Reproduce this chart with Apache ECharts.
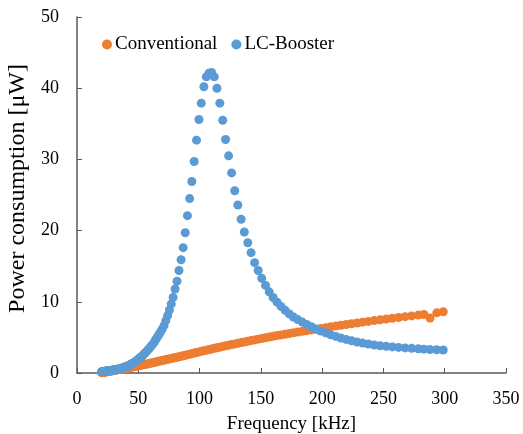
<!DOCTYPE html>
<html>
<head>
<meta charset="utf-8">
<script src="https://cdn.jsdelivr.net/npm/echarts@6/dist/echarts.min.js"></script>
<style>
  html, body { margin: 0; padding: 0; background: #fff; }
  #chart { width: 523px; height: 434px; }
</style>
</head>
<body>
<div id="chart"></div>
<script>
  // frequency [kHz]
  var freq = [
    20.0, 20.4, 20.8, 21.2, 21.6, 22.1, 22.5, 23.0, 23.4, 23.9,
    24.4, 24.9, 25.4, 25.9, 26.4, 26.9, 27.5, 28.0, 28.6, 29.1,
    29.7, 30.3, 30.9, 31.5, 32.2, 32.8, 33.5, 34.1, 34.8, 35.5,
    36.2, 37.0, 37.7, 38.4, 39.2, 40.0, 40.8, 41.6, 42.4, 43.3,
    44.2, 45.0, 45.9, 46.9, 47.8, 48.8, 49.7, 50.7, 51.7, 52.8,
    53.8, 54.9, 56.0, 57.1, 58.3, 59.4, 60.6, 61.8, 63.1, 64.3,
    65.6, 66.9, 68.3, 69.6, 71.0, 72.4, 73.9, 75.4, 76.9, 78.4,
    80.0, 81.6, 83.2, 84.9, 86.6, 88.3, 90.1, 91.9, 93.7, 95.6,
    97.5, 99.5, 101.4, 103.5, 105.5, 107.7, 109.8, 112.0, 114.2, 116.5,
    118.9, 121.2, 123.7, 126.1, 128.7, 131.2, 133.9, 136.5, 139.3, 142.0,
    144.9, 147.8, 150.7, 153.8, 156.8, 160.0, 163.2, 166.4, 169.8, 173.2,
    176.6, 180.1, 183.8, 187.4, 191.2, 195.0, 198.9, 202.9, 206.9, 211.1,
    215.3, 219.6, 224.0, 228.5, 233.0, 237.7, 242.5, 247.3, 252.3, 257.3,
    262.4, 267.7, 273.0, 278.5, 283.0, 288.0, 293.5, 298.8
  ];

  // power consumption [uW]
  var conventional = [
    0.05, 0.06, 0.07, 0.08, 0.09, 0.11, 0.12, 0.14, 0.15, 0.17,
    0.18, 0.20, 0.21, 0.23, 0.25, 0.26, 0.28, 0.30, 0.32, 0.33,
    0.35, 0.37, 0.39, 0.41, 0.43, 0.45, 0.47, 0.49, 0.51, 0.53,
    0.55, 0.58, 0.60, 0.63, 0.65, 0.68, 0.70, 0.73, 0.75, 0.78,
    0.82, 0.85, 0.88, 0.91, 0.94, 0.97, 1.00, 1.04, 1.07, 1.11,
    1.15, 1.19, 1.23, 1.27, 1.31, 1.35, 1.40, 1.44, 1.49, 1.55,
    1.60, 1.65, 1.71, 1.76, 1.82, 1.87, 1.93, 1.98, 2.04, 2.09,
    2.15, 2.21, 2.28, 2.35, 2.42, 2.49, 2.57, 2.64, 2.72, 2.80,
    2.88, 2.96, 3.04, 3.12, 3.20, 3.29, 3.37, 3.46, 3.54, 3.63,
    3.72, 3.81, 3.90, 3.99, 4.08, 4.17, 4.27, 4.36, 4.46, 4.55,
    4.65, 4.75, 4.85, 4.95, 5.05, 5.15, 5.25, 5.35, 5.45, 5.55,
    5.65, 5.75, 5.85, 5.95, 6.05, 6.15, 6.26, 6.37, 6.48, 6.59,
    6.70, 6.81, 6.92, 7.03, 7.14, 7.25, 7.36, 7.47, 7.58, 7.69,
    7.80, 7.91, 8.02, 8.13, 8.22, 7.72, 8.45, 8.60
  ];

  var lcBooster = [
    0.19, 0.20, 0.20, 0.21, 0.22, 0.23, 0.24, 0.25, 0.26, 0.27,
    0.28, 0.29, 0.30, 0.31, 0.33, 0.34, 0.35, 0.37, 0.38, 0.40,
    0.42, 0.44, 0.46, 0.48, 0.50, 0.52, 0.54, 0.57, 0.60, 0.63,
    0.67, 0.71, 0.75, 0.80, 0.85, 0.90, 0.96, 1.02, 1.09, 1.16,
    1.24, 1.33, 1.42, 1.52, 1.63, 1.75, 1.88, 2.02, 2.17, 2.33,
    2.50, 2.70, 2.90, 3.10, 3.32, 3.55, 3.80, 4.05, 4.35, 4.70,
    5.05, 5.40, 5.80, 6.20, 6.65, 7.35, 8.05, 8.85, 9.70, 10.60,
    11.80, 12.90, 14.40, 15.90, 17.60, 19.70, 22.10, 24.50, 26.90, 29.70,
    32.70, 35.60, 37.90, 40.20, 41.60, 42.10, 42.20, 41.60, 40.00, 37.90,
    35.50, 32.80, 30.50, 28.10, 25.60, 23.60, 21.60, 19.80, 18.30, 16.90,
    15.50, 14.40, 13.30, 12.30, 11.40, 10.60, 9.95, 9.35, 8.80, 8.30,
    7.87, 7.50, 7.15, 6.82, 6.50, 6.18, 5.90, 5.63, 5.38, 5.14,
    4.92, 4.72, 4.53, 4.36, 4.20, 4.06, 3.94, 3.83, 3.74, 3.66,
    3.59, 3.52, 3.46, 3.40, 3.35, 3.30, 3.26, 3.23
  ];

  var seriesNames = ['Conventional', 'LC-Booster'];
  var font = '"Liberation Serif", "Times New Roman", serif';

  function pairs(ys) {
    return freq.map(function (f, i) { return [f, ys[i]]; });
  }

  var chart = echarts.init(document.getElementById('chart'));
  chart.setOption({
    animation: false,
    textStyle: { fontFamily: font, color: '#000' },
    grid: { left: 77, right: 17, top: 17, bottom: 61, outerBoundsMode: 'none', containLabel: false },
    legend: {
      data: seriesNames,
      left: 97,
      top: 30,
      icon: 'circle',
      itemWidth: 10,
      itemHeight: 10,
      itemGap: 14,
      textStyle: { fontFamily: font, fontSize: 19, color: '#000', padding: [0, 0, 0, -2] }
    },
    xAxis: {
      type: 'value',
      min: 0, max: 350, interval: 50,
      name: 'Frequency [kHz]',
      nameLocation: 'middle',
      nameGap: 42,
      nameTextStyle: { fontFamily: font, fontSize: 19, color: '#000' },
      axisLine: { lineStyle: { color: '#595959', width: 1.5 } },
      axisTick: { inside: true, length: 5, lineStyle: { color: '#595959' } },
      axisLabel: { fontFamily: font, fontSize: 18, color: '#000', margin: 17 },
      splitLine: { show: false }
    },
    yAxis: {
      type: 'value',
      min: 0, max: 50, interval: 10,
      name: 'Power consumption [\u03bcW]',
      nameLocation: 'middle',
      nameGap: 46,
      nameTextStyle: { fontFamily: font, fontSize: 24, color: '#000', padding: [0, 0, 0, 13] },
      axisLine: { show: true, lineStyle: { color: '#595959', width: 1.5 } },
      axisTick: { show: true, inside: true, length: 5, lineStyle: { color: '#595959' } },
      axisLabel: { fontFamily: font, fontSize: 18, color: '#000', margin: 18 },
      splitLine: { show: false }
    },
    series: [
      {
        name: seriesNames[0],
        type: 'scatter',
        symbol: 'circle',
        symbolSize: 9,
        itemStyle: { color: '#ED7D31', opacity: 1 },
        data: pairs(conventional)
      },
      {
        name: seriesNames[1],
        type: 'scatter',
        symbol: 'circle',
        symbolSize: 9,
        itemStyle: { color: '#5B9BD5', opacity: 1 },
        data: pairs(lcBooster)
      }
    ]
  });
</script>
</body>
</html>
